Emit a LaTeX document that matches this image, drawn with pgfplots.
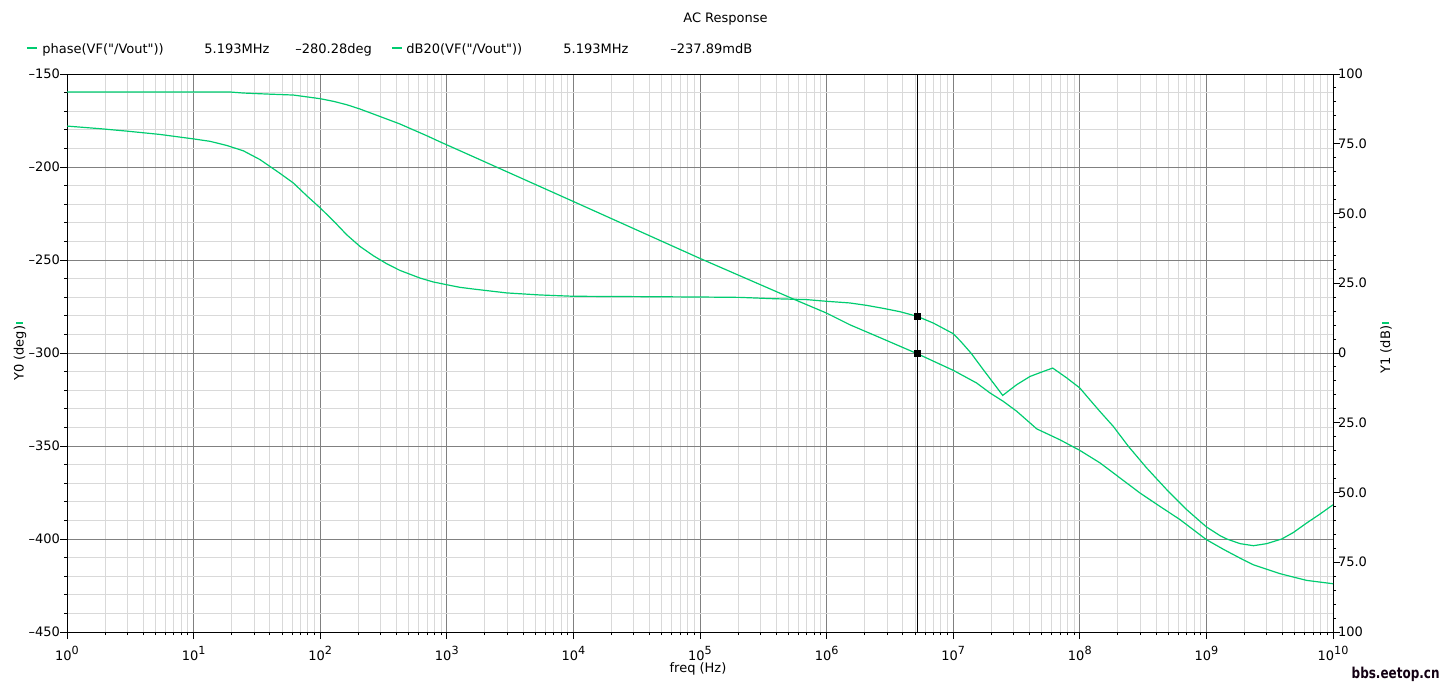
\documentclass[border=0pt]{standalone}
\usepackage{fontspec}
\setmainfont{DejaVu Sans}[Ligatures=TeXOff]
\usepackage{pgfplots}
\pgfplotsset{compat=1.18}
\definecolor{cv}{HTML}{00CC70}
\definecolor{gmaj}{HTML}{808080}
\definecolor{gmin}{HTML}{D9D9D9}
\newcommand\tk{\fontsize{6.5}{7.5}\selectfont}
\newcommand\pw[1]{10\raisebox{0.46em}{\fontsize{5.6}{6}\selectfont #1}}
\begin{document}
\begin{tikzpicture}
\path[use as bounding box] (-33.5pt,-27.5pt) rectangle (686.5pt,316pt);
% phase, left axis
\begin{axis}[
  at={(0,0)}, anchor=south west, scale only axis,
  width=633pt, height=279pt,
  xmode=log, xmin=1, xmax=1e10,
  ymin=-450, ymax=-150,
  tick align=outside, major tick length=3.5pt, minor tick length=1.5pt,
  axis line style={black, line width=0.5pt},
  tick style={black, line width=0.5pt},
  ticklabel style={font=\tk},
  yticklabel style={xshift=3.5pt},
  minor y tick num=4,
  xtick={1e0,1e1,1e2,1e3,1e4,1e5,1e6,1e7,1e8,1e9,1e10},
  xticklabels={\pw0,\pw1,\pw2,\pw3,\pw4,\pw5,\pw6,\pw7,\pw8,\pw9,\pw{10}},
  minor xtick={2e0,3e0,4e0,5e0,6e0,7e0,8e0,9e0,
    2e1,3e1,4e1,5e1,6e1,7e1,8e1,9e1,
    2e2,3e2,4e2,5e2,6e2,7e2,8e2,9e2,
    2e3,3e3,4e3,5e3,6e3,7e3,8e3,9e3,
    2e4,3e4,4e4,5e4,6e4,7e4,8e4,9e4,
    2e5,3e5,4e5,5e5,6e5,7e5,8e5,9e5,
    2e6,3e6,4e6,5e6,6e6,7e6,8e6,9e6,
    2e7,3e7,4e7,5e7,6e7,7e7,8e7,9e7,
    2e8,3e8,4e8,5e8,6e8,7e8,8e8,9e8,
    2e9,3e9,4e9,5e9,6e9,7e9,8e9,9e9},
  ytick={-450,-400,-350,-300,-250,-200,-150},
  yticklabels={–450,–400,–350,–300,–250,–200,–150},
  xtick pos=bottom, ytick pos=left,
  grid=both,
  major grid style={gmaj, line width=0.5pt},
  minor grid style={gmin, line width=0.5pt}]
\addplot[cv, line width=0.6pt] coordinates {
  (1,-178.0) (1.824,-179.4) (2.965,-180.7) (5.433,-182.5) (10,-184.9)
  (13.49,-186.2) (18.24,-188.4) (24.72,-191.3) (33.42,-196.0) (40.09,-199.7)
  (48.08,-203.4) (61.38,-208.6) (78.16,-215.4) (100,-222.0) (127.4,-229.0)
  (161.8,-236.4) (206.1,-242.7) (263.0,-247.7) (335.0,-252.0) (426.6,-255.6)
  (613.8,-259.7) (781.6,-261.8) (1000,-263.3) (1271,-264.7) (1618,-265.6)
  (2972,-267.7) (5445,-268.8) (1e4,-269.5) (3.357e4,-269.7) (1e5,-269.9)
  (2.070e5,-270.1) (3.793e5,-270.8) (6.966e5,-271.3) (1e6,-272.2) (1.531e6,-273.1)
  (2.075e6,-274.4) (2.805e6,-276.0) (3.802e6,-277.8) (5.193e6,-280.28) (6.966e6,-283.9)
  (1e7,-289.6) (1.148e7,-293.8) (1.380e7,-300.0) (1.730e7,-309.0) (2.075e7,-316.1)
  (2.460e7,-322.8) (3.177e7,-317.0) (4.046e7,-312.6) (5.152e7,-309.9) (6.109e7,-308.1)
  (7.889e7,-313.4) (1e8,-318.8) (1.202e8,-325.2) (1.445e8,-331.5) (1.841e8,-339.5)
  (2.421e8,-350.2) (3.373e8,-361.8) (4.864e8,-373.5) (6.982e8,-384.2) (1e9,-393.5)
  (1.288e9,-398.3) (1.449e9,-400.0) (1.845e9,-402.5) (2.350e9,-403.6) (2.992e9,-402.5)
  (3.936e9,-400.0) (4.864e9,-396.5) (6.194e9,-391.4) (7.889e9,-386.6) (1e10,-381.6)};
\addplot[black, line width=0.6pt] coordinates {(5.193e6,-450) (5.193e6,-150)};
\addplot[only marks, mark=square*, mark size=1.5pt, black] coordinates {(5.193e6,-280.28)};
\end{axis}
% dB, right axis
\begin{axis}[
  at={(0,0)}, anchor=south west, scale only axis,
  width=633pt, height=279pt,
  xmode=log, xmin=1, xmax=1e10,
  ymin=-100, ymax=100,
  tick align=outside, major tick length=3.5pt, minor tick length=1.5pt,
  axis line style={black, line width=0.5pt},
  tick style={black, line width=0.5pt},
  ticklabel style={font=\tk},
  yticklabel style={xshift=-4.5pt},
  minor y tick num=4,
  hide x axis, axis y line*=right,
  ytick={-100,-75,-50,-25,0,25,50,75,100},
  yticklabels={100,75.0,50.0,25.0,0,25.0,50.0,75.0,100}]
\addplot[cv, line width=0.6pt] coordinates {
  (1,93.55) (19.4,93.55) (24.7,93.18) (37.8,92.82) (61.4,92.46) (100,91.15)
  (127.4,90.2) (161.8,89.0) (206.1,87.45) (263,85.66) (335,83.87)
  (426.6,82.08) (543,80.0) (693,77.9) (883,75.7) (1000,74.6) (1271,72.5)
  (1e4,54.3) (1e5,33.9) (5.623e5,19.1) (1e6,14.3) (1.531e6,10.1)
  (2.805e6,5.0) (5.193e6,-0.238) (1e7,-6.2) (1.531e7,-10.75) (1.950e7,-14.3)
  (2.489e7,-17.35) (3.177e7,-20.9) (4.571e7,-27.2) (6.966e7,-31.1) (1e8,-34.9)
  (1.445e8,-39.4) (2.080e8,-44.8) (2.992e8,-50.2) (4.305e8,-55.0) (6.180e8,-59.7)
  (1e9,-66.9) (1.380e9,-70.5) (1.950e9,-74.1) (2.350e9,-75.9) (3.819e9,-79.1)
  (6.194e9,-81.5) (1e10,-82.7)};
\addplot[only marks, mark=square*, mark size=1.5pt, black] coordinates {(5.193e6,-0.238)};
\end{axis}
% title, cursor legend, axis labels
\node[font=\tk] at (329.25pt,306.5pt) {AC Response};
\draw[cv, line width=0.6pt] (-20pt,292pt) -- (-15pt,292pt);
\node[font=\tk, anchor=mid west, inner sep=0pt] at (-12.5pt,292pt) {phase(VF("/Vout"))};
\node[font=\tk, anchor=mid west, inner sep=0pt] at (68.5pt,292pt) {5.193MHz};
\node[font=\tk, anchor=mid west, inner sep=0pt] at (114pt,292pt) {–280.28deg};
\draw[cv, line width=0.6pt] (162.5pt,292pt) -- (167.5pt,292pt);
\node[font=\tk, anchor=mid west, inner sep=0pt] at (169.5pt,292pt) {dB20(VF("/Vout"))};
\node[font=\tk, anchor=mid west, inner sep=0pt] at (248pt,292pt) {5.193MHz};
\node[font=\tk, anchor=mid west, inner sep=0pt] at (301.5pt,292pt) {–237.89mdB};
\node[font=\tk, rotate=90, anchor=east, inner sep=0pt] at (-23.5pt,155pt)
  {Y0 (deg)\,\textcolor{cv}{\rule[0.1ex]{0.6pt}{3.5pt}}};
\node[font=\tk, rotate=90, anchor=east, inner sep=0pt] at (659.5pt,155pt)
  {Y1 (dB)\,\textcolor{cv}{\rule[0.1ex]{0.6pt}{3.5pt}}};
\node[font=\tk] at (315.5pt,-18.5pt) {freq (Hz)};
\node[font=\fontsize{7.5}{8}\selectfont\bfseries, text=black!85!violet, anchor=mid east, inner sep=0pt]
  at (686.5pt,-20.5pt) {\scalebox{0.8}[1]{bbs.eetop.cn}};
\end{tikzpicture}
\end{document}
